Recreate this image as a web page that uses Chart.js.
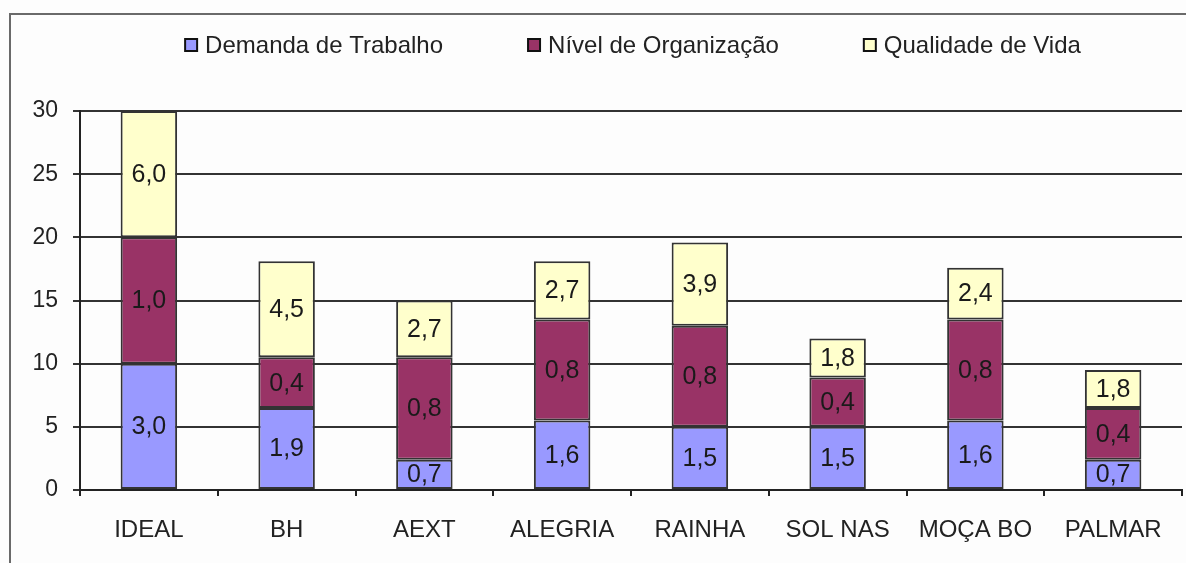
<!DOCTYPE html>
<html>
<head>
<meta charset="utf-8">
<script src="https://cdn.jsdelivr.net/npm/chart.js@4.4.1/dist/chart.umd.min.js"></script>
<style>
  html, body { margin: 0; padding: 0; background: #fdfdfd; }
  #frame {
    position: absolute; left: 9px; top: 13px; width: 1200px; height: 600px;
    border-left: 2px solid #6a6a6a; border-top: 2px solid #6a6a6a;
  }
  #wrap { position: absolute; left: 0; top: 0; width: 1186px; height: 563px; }
</style>
</head>
<body>
<div id="frame"></div>
<div id="wrap"><canvas id="grafico"></canvas></div>
<script>
// categorias (eixo x)
const categorias = ['IDEAL', 'BH', 'AEXT', 'ALEGRIA', 'RAINHA', 'SOL NAS', 'MOÇA BO', 'PALMAR'];

// altura de cada segmento no gráfico (lida da escala 0-30)
const demandaAltura = [10, 6.5, 2.4, 5.5, 5, 5, 5.5, 2.4];
const organizacaoAltura = [10, 4, 8.1, 8, 8, 3.9, 8, 4.1];
const qualidadeAltura = [10, 7.6, 4.5, 4.6, 6.6, 3.1, 4.1, 3];

// valores escritos dentro das barras
const demandaRotulo = [3.0, 1.9, 0.7, 1.6, 1.5, 1.5, 1.6, 0.7];
const organizacaoRotulo = [1.0, 0.4, 0.8, 0.8, 0.8, 0.4, 0.8, 0.4];
const qualidadeRotulo = [6.0, 4.5, 2.7, 2.7, 3.9, 1.8, 2.4, 1.8];

// ticks do eixo y
const ticksY = [0, 5, 10, 15, 20, 25, 30];

const fonte = "'Liberation Sans', Arial, sans-serif";

// rótulos no centro de cada segmento
const rotulosPlugin = {
  id: 'rotulos',
  afterDatasetsDraw(chart) {
    const ctx = chart.ctx;
    ctx.save();
    ctx.font = '25px ' + fonte;
    ctx.fillStyle = '#1a1a1a';
    ctx.textAlign = 'center';
    ctx.textBaseline = 'middle';
    chart.data.datasets.forEach((ds, i) => {
      chart.getDatasetMeta(i).data.forEach((bar, j) => {
        const txt = ds.rotulos[j].toFixed(1).replace('.', ',');
        ctx.fillText(txt, bar.x, (bar.y + bar.base) / 2 + 1);
      });
    });
    ctx.restore();
  },
};

// legenda desenhada à mão (espaçamento largo entre itens)
const legendaPlugin = {
  id: 'legenda',
  afterDraw(chart) {
    const ctx = chart.ctx;
    ctx.save();
    ctx.font = '24px ' + fonte;
    ctx.textBaseline = 'middle';
    const caixa = 12, gap = 8, espaco = 85, y = 45;
    const itens = chart.data.datasets.map((ds) => ({
      ds, w: caixa + gap + ctx.measureText(ds.label).width,
    }));
    const total = itens.reduce((s, it) => s + it.w, 0) + espaco * (itens.length - 1);
    let x = 633 - total / 2;
    itens.forEach((it) => {
      ctx.fillStyle = it.ds.backgroundColor;
      ctx.fillRect(x, y - caixa / 2, caixa, caixa);
      ctx.strokeStyle = '#111';
      ctx.lineWidth = 2;
      ctx.strokeRect(x, y - caixa / 2, caixa, caixa);
      ctx.fillStyle = '#222';
      ctx.fillText(it.ds.label, x + caixa + gap, y + 1);
      x += it.w + espaco;
    });
    ctx.restore();
  },
};

const estiloBarra = {
  borderColor: '#333',
  borderWidth: 2,
  borderSkipped: false,
  categoryPercentage: 1,
  barPercentage: 0.41,
};

new Chart(document.getElementById('grafico'), {
  type: 'bar',
  data: {
    labels: categorias,
    datasets: [
      { label: 'Demanda de Trabalho', data: demandaAltura, rotulos: demandaRotulo, backgroundColor: '#9999ff', ...estiloBarra },
      { label: 'Nível de Organização', data: organizacaoAltura, rotulos: organizacaoRotulo, backgroundColor: '#993366', ...estiloBarra },
      { label: 'Qualidade de Vida', data: qualidadeAltura, rotulos: qualidadeRotulo, backgroundColor: '#ffffcc', ...estiloBarra },
    ],
  },
  options: {
    responsive: true,
    maintainAspectRatio: false,
    animation: false,
    layout: { padding: { left: 0, right: 4, top: 111, bottom: 0 } },
    plugins: {
      legend: { display: false },
      tooltip: { enabled: false },
    },
    scales: {
      x: {
        stacked: true,
        grid: { offset: true, drawOnChartArea: false, drawTicks: true, tickLength: 6, color: '#222', lineWidth: 2 },
        border: { color: '#222', width: 2 },
        ticks: { color: '#222', font: { family: fonte, size: 24 }, padding: 20, maxRotation: 0 },
        afterFit: (s) => { s.height = 73; },
      },
      y: {
        stacked: true,
        min: 0,
        max: 30,
        afterBuildTicks: (s) => { s.ticks = ticksY.map((v) => ({ value: v })); },
        grid: { color: '#333', lineWidth: 2, tickLength: 7 },
        border: { color: '#222', width: 2 },
        ticks: { color: '#222', font: { family: fonte, size: 23 }, padding: 15 },
        afterFit: (s) => { s.width = 80; },
      },
    },
  },
  plugins: [rotulosPlugin, legendaPlugin],
});
</script>
</body>
</html>
